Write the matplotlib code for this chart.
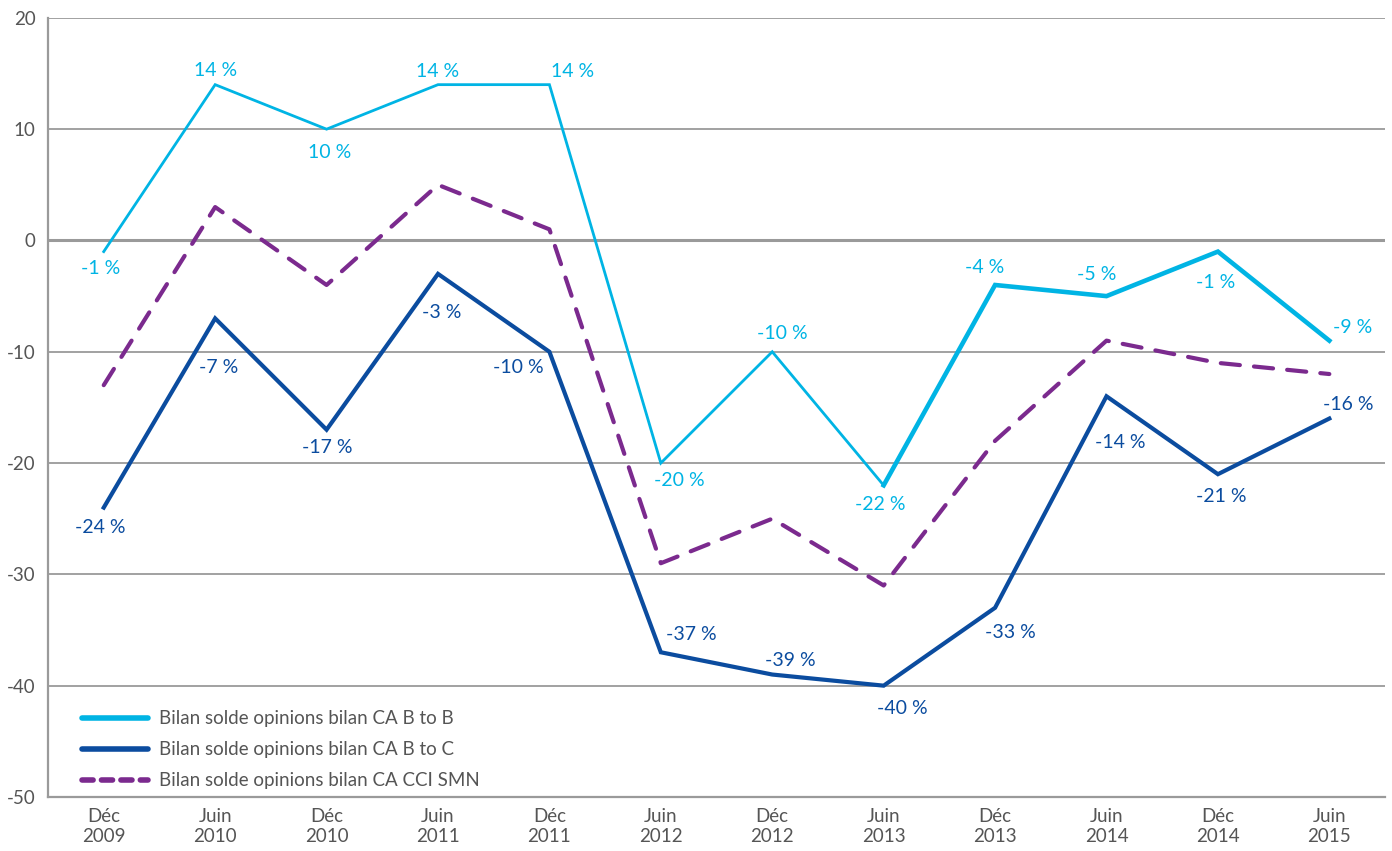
import matplotlib.pyplot as plt

plt.rcParams['font.family'] = ['Lato', 'DejaVu Sans']

periods = ["Déc\n2009", "Juin\n2010", "Déc\n2010", "Juin\n2011", "Déc\n2011", "Juin\n2012",
           "Déc\n2012", "Juin\n2013", "Déc\n2013", "Juin\n2014", "Déc\n2014", "Juin\n2015"]
b_to_b = [-1, 14, 10, 14, 14, -20, -10, -22, -4, -5, -1, -9]
b_to_c = [-24, -7, -17, -3, -10, -37, -39, -40, -33, -14, -21, -16]
cci_smn = [-13, 3, -4, 5, 1, -29, -25, -31, -18, -9, -11, -12]
names = ["Bilan solde opinions bilan CA B to B",
         "Bilan solde opinions bilan CA B to C",
         "Bilan solde opinions bilan CA CCI SMN"]

# label offsets in pixels (dx, dy)
off_bb = [(-3, -17), (0, 14), (3, -23), (0, 13), (23, 13), (18, -17),
          (10, 18), (-3, -19), (-10, 17), (-10, 22), (-2, -31), (23, 13)]
off_bc = [(-3, -20), (3, -49), (1, -18), (4, -39), (-31, -16), (30, 18),
          (18, 14), (19, -23), (15, -25), (14, -46), (3, -22), (19, 14)]

C_BB = "#00b4e4"
C_BC = "#0b4c9f"
C_CCI = "#7b2a8e"
GRID = "#9a9a9a"
TXT = "#555555"

fig = plt.figure(figsize=(13.92, 8.51), dpi=100)
ax = fig.add_axes([0.0345, 0.0635, 0.9605, 0.9155])

x = list(range(len(periods)))

ax.set_ylim(-50, 20)
ax.set_xlim(-0.5, len(periods) - 0.5)
for v in range(-40, 21, 10):
    ax.axhline(v, color=GRID, lw=2.2 if v == 0 else 1.3, zorder=1)

# B to B: thinner first part, thicker from Juin 2013
ax.plot(x[:8], b_to_b[:8], color=C_BB, lw=2.0, zorder=3, solid_joinstyle='miter')
ax.plot(x[7:], b_to_b[7:], color=C_BB, lw=3.3, zorder=3, solid_joinstyle='miter')
ax.plot(x, b_to_c, color=C_BC, lw=3.0, zorder=3, solid_joinstyle='miter')
ax.plot(x, cci_smn, color=C_CCI, lw=3.0, dashes=(4.6, 3.4), dash_capstyle='round', zorder=2)

for i, v in enumerate(b_to_b):
    ax.annotate(f"{v} %", (i, v), xytext=off_bb[i], textcoords='offset pixels',
                ha='center', va='center', color=C_BB, fontsize=14, zorder=4)
for i, v in enumerate(b_to_c):
    ax.annotate(f"{v} %", (i, v), xytext=off_bc[i], textcoords='offset pixels',
                ha='center', va='center', color=C_BC, fontsize=14, zorder=4)

h1, = ax.plot([], [], color=C_BB, lw=4, solid_capstyle='round')
h2, = ax.plot([], [], color=C_BC, lw=4, solid_capstyle='round')
h3, = ax.plot([], [], color=C_CCI, lw=4, dashes=(2.0, 1.5), dash_capstyle='round')
leg = ax.legend([h1, h2, h3], names, loc='lower left', bbox_to_anchor=(0.013, -0.012),
                frameon=False, fontsize=13.5, handlelength=3.5, handletextpad=0.6,
                labelspacing=0.75, labelcolor=TXT)

ax.set_xticks(x)
ax.set_xticklabels(periods, fontsize=13.5, color=TXT, linespacing=1.2)
ax.set_yticks(range(-50, 21, 10))
ax.set_yticklabels([str(v) for v in range(-50, 21, 10)], fontsize=13.5, color=TXT)
ax.tick_params(length=0, pad=8)
ax.tick_params(axis='y', pad=9)

for s in ['top', 'right']:
    ax.spines[s].set_visible(False)
for s in ['left', 'bottom']:
    ax.spines[s].set_color(GRID)
    ax.spines[s].set_linewidth(1.6)

fig.savefig("out.png", dpi=100)
